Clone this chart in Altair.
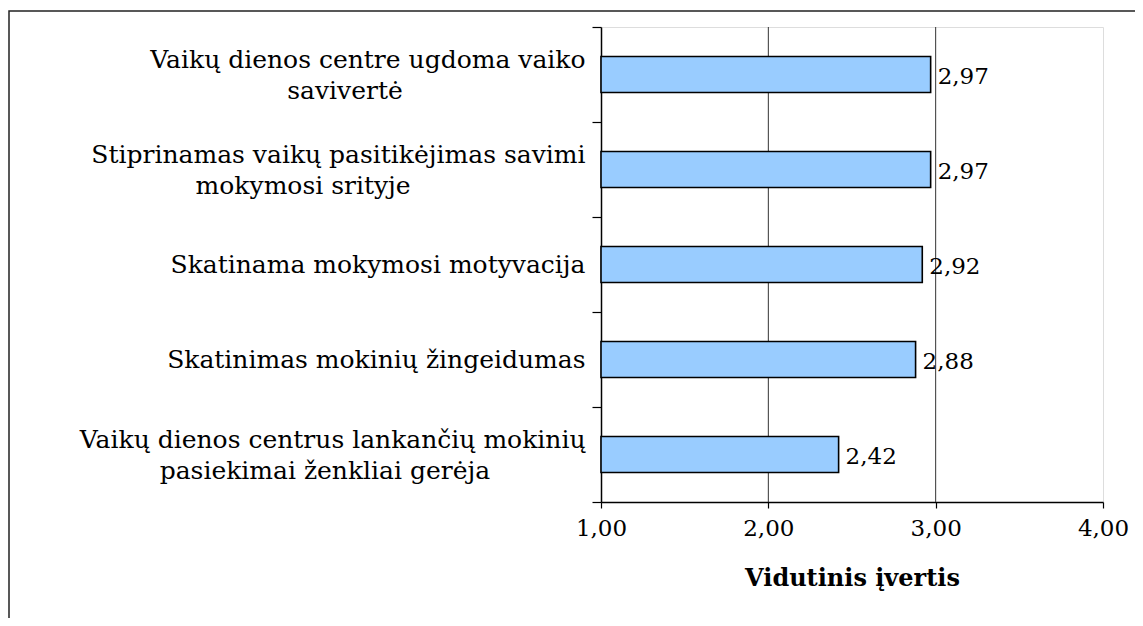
import altair as alt
import pandas as pd

# ---- data ----
categories = [
    "Vaikų dienos centre ugdoma vaiko|savivertė",
    "Stiprinamas vaikų pasitikėjimas savimi|mokymosi srityje",
    "Skatinama mokymosi motyvacija",
    "Skatinimas mokinių žingeidumas",
    "Vaikų dienos centrus lankančių mokinių|pasiekimai ženkliai gerėja",
]
values = [2.97, 2.97, 2.92, 2.88, 2.42]
x_ticks = [1, 2, 3, 4]
grid_values = [2, 3]
axis_min = 1
axis_max = 4
x_title = "Vidutinis įvertis"

df = pd.DataFrame({
    "cat": categories,
    "value": values,
    "base": [axis_min] * len(values),
    "label": [f"{v:.2f}".replace(".", ",") for v in values],
})
grid_df = pd.DataFrame({"g": grid_values})

FONT = "DejaVu Serif"
W, H = 502, 475
NB = "\u00a0"
ZW = "\u200b"

# two-line labels: second line padded so that it sits roughly centred under the first
ylab = (
    "length(split(datum.label,'|'))>1 ? "
    "[split(datum.label,'|')[0], pad(split(datum.label,'|')[1], "
    "length(split(datum.label,'|')[0]), '" + NB + "') + '" + ZW + "'] : datum.label"
)

xscale = alt.Scale(domain=[axis_min, axis_max], nice=False, zero=False)
yscale = alt.Scale(paddingInner=0, paddingOuter=0)

x_axis = alt.Axis(
    values=x_ticks,
    labelExpr="replace(format(datum.value, '.2f'), '.', ',')",
    grid=False,
    domainColor="black", domainWidth=1.5,
    tickColor="black", tickSize=6, tickWidth=1.2,
    labelFont=FONT, labelFontSize=23, labelColor="black",
    labelPadding=9, labelFlush=False,
    title=x_title, titleFont=FONT, titleFontSize=24,
    titleFontWeight="bold", titleColor="black", titlePadding=26,
)
y_axis = alt.Axis(
    title=None,
    labelExpr=ylab,
    tickBand="extent",
    grid=False,
    domainColor="black", domainWidth=1.5,
    tickColor="black", tickSize=9, tickWidth=1.2,
    labelFont=FONT, labelFontSize=25, labelColor="black",
    labelLineHeight=31, labelPadding=7, labelLimit=800,
    labelOffset={"condition": {"test": "indexof(datum.label, '|') >= 0", "value": -15}, "value": 0},
)

frame = alt.Chart(alt.Data(values=[{}])).mark_rect(
    fill=None, stroke="#222222", strokeWidth=1.5
).encode(
    x=alt.value(-592), x2=alt.value(700),
    y=alt.value(-16), y2=alt.value(800),
)

grid = alt.Chart(grid_df).mark_rule(color="#333333", strokeWidth=1).encode(
    x=alt.X("g:Q", scale=xscale, axis=x_axis),
)

bars = alt.Chart(df).mark_bar(
    height={"band": 0.38}, fill="#99CCFF", stroke="black", strokeWidth=1.6
).encode(
    x=alt.X("value:Q", scale=xscale, axis=x_axis),
    x2="base:Q",
    y=alt.Y("cat:N", sort=categories, scale=yscale, axis=y_axis),
)

texts = alt.Chart(df).mark_text(
    align="left", baseline="middle", dx=7, dy=2,
    font=FONT, fontSize=23, color="black",
).encode(
    x=alt.X("value:Q", scale=xscale),
    y=alt.Y("cat:N", sort=categories, scale=yscale),
    text="label:N",
)

chart = alt.layer(frame, grid, bars, texts).properties(
    width=W, height=H,
    padding={"left": 593, "top": 19, "right": 32, "bottom": 116},
    autosize=alt.AutoSizeParams(type="none"),
).configure_view(
    stroke="#808080", strokeWidth=2
).configure(background="white")

chart.save("out.html", embed_options={"renderer": "svg", "actions": False})
